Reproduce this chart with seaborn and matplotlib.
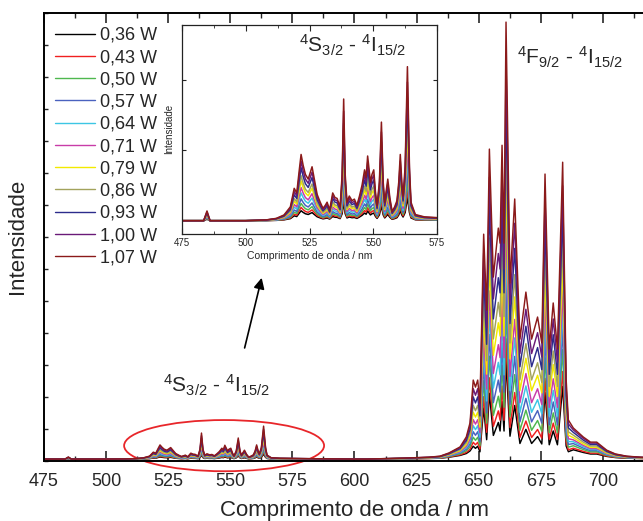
import numpy as np
import pandas as pd
import matplotlib
matplotlib.use('Agg')
import matplotlib.pyplot as plt
import seaborn as sns
from matplotlib.patches import Ellipse
from matplotlib.lines import Line2D
from matplotlib.ticker import MultipleLocator, FixedLocator

# ---------------- data ----------------
powers = ['0,36 W', '0,43 W', '0,50 W', '0,57 W', '0,64 W', '0,71 W',
          '0,79 W', '0,86 W', '0,93 W', '1,00 W', '1,07 W']
colors = ['#000000', '#f02020', '#4fb84f', '#4a62bf', '#3cc6e4', '#c83ca8',
          '#f2ea00', '#a3a35c', '#2c2c8c', '#6a1a78', '#8b1a1a']
# relative intensity of each power for the green (4S3/2) band
green_scale = [0.15, 0.20, 0.26, 0.33, 0.42, 0.50, 0.60, 0.68, 0.80, 0.90, 1.00]
# relative intensity of each power for the red band: floor (valleys) and peaks
red_floor_scale = [0.13, 0.18, 0.24, 0.31, 0.39, 0.47, 0.57, 0.66, 0.77, 0.88, 1.00]
red_peak_scale = [0.30, 0.35, 0.43, 0.50, 0.56, 0.62, 0.69, 0.77, 0.86, 0.94, 1.00]

# green band profile (1,07 W curve, normalised to its 563 nm maximum)
green_nm = [475, 483.5, 484.8, 486, 500, 508, 512, 515, 517.5, 519, 520, 521,
            521.7, 522.5, 523.4, 524.5, 526, 527, 528, 529.2, 530.3, 531.2,
            531.9, 532.9, 534.1, 535.0, 535.8, 537, 537.8, 538.4, 539.0, 539.7,
            540.6, 541.7, 542.6, 543.6, 544.6, 545.6, 546.6, 547.2, 547.8, 548.9,
            549.5, 550.2, 550.9, 551.5, 552.4, 553.2, 553.9, 554.5, 555.7, 556.5,
            557.4, 558.4, 559.3, 560.0, 560.6, 561.2, 561.7, 562.5, 563.4, 564.2,
            564.8, 566.5, 570, 575, 585, 600]
green_rel = [0.0, 0.0, 0.063, 0.0, 0.0, 0.005, 0.015, 0.037, 0.09, 0.21, 0.18, 0.33,
             0.43, 0.36, 0.30, 0.27, 0.35, 0.26, 0.17, 0.12, 0.08, 0.10,
             0.12, 0.07, 0.18, 0.15, 0.145, 0.09, 0.30, 0.79, 0.30, 0.12,
             0.16, 0.13, 0.14, 0.10, 0.16, 0.23, 0.33, 0.28, 0.42, 0.25,
             0.30, 0.33, 0.18, 0.10, 0.25, 0.64, 0.25, 0.12, 0.27, 0.15,
             0.06, 0.09, 0.13, 0.25, 0.43, 0.25, 0.16, 0.35, 1.00, 0.35,
             0.12, 0.04, 0.025, 0.02, 0.01, 0.0]
green_peak = 1.03      # height of the green maximum on the main intensity scale

# red band profile (1,07 W curve, main intensity scale) and its valley floor
red_nm = [605, 620, 630, 634.4, 638, 642.5, 645, 646.5, 647.8, 648.7, 649.6,
          650.5, 652.0, 653.2, 654.3, 655.9, 657.9, 658.6, 659.4, 660.2, 661.0,
          662.6, 664.5, 666.6, 669.0, 671.3, 673.7, 675.4, 676.7, 678.4, 680.0,
          681.7, 683.8, 685.2, 686.1, 688.1, 692.1, 695, 697.5, 701.5, 705,
          709.6, 715, 725]
red_int = [0.0, 0.03, 0.06, 0.09, 0.19, 0.38, 0.69, 1.13, 2.47, 2.25, 2.47,
           1.75, 7.03, 4.66, 9.69, 5.69, 7.22, 6.75, 9.81, 6.75, 13.66,
           5.50, 8.13, 3.75, 5.22, 3.75, 4.44, 3.63, 8.91, 3.44, 4.88,
           3.44, 9.28, 2.50, 1.22, 0.97, 0.69, 0.53, 0.53, 0.28, 0.16,
           0.09, 0.06, 0.03]
red_floor = [0.0, 0.0, 0.0, 0.0, 0.0, 0.0, 0.2, 0.5, 2.0, 2.0, 2.0,
             1.75, 3.0, 4.66, 5.0, 5.69, 6.0, 6.75, 6.75, 6.75, 6.0,
             5.50, 4.5, 3.75, 3.75, 3.75, 3.7, 3.63, 3.5, 3.44, 3.44,
             3.44, 3.0, 2.0, 0.8, 0.0, 0.0, 0.0, 0.0, 0.0, 0.0,
             0.0, 0.0, 0.0]
baseline = 0.06

# ---------------- style ----------------
sns.set_style('ticks')
plt.rcParams['font.family'] = ['Liberation Sans', 'DejaVu Sans']
plt.rcParams['mathtext.fontset'] = 'custom'
plt.rcParams['mathtext.rm'] = 'Liberation Sans'
plt.rcParams['mathtext.it'] = 'Liberation Sans:italic'
plt.rcParams['mathtext.bf'] = 'Liberation Sans:bold'

rows = []
for p, gs, fs, ps in zip(powers, green_scale, red_floor_scale, red_peak_scale):
    for x, g in zip(green_nm, green_rel):
        rows.append((p, x, baseline + gs * g * green_peak, 'g'))
    for x, r, f in zip(red_nm, red_int, red_floor):
        rows.append((p, x, baseline + fs * f + ps * (r - f), 'r'))
df = pd.DataFrame(rows, columns=['Potencia', 'nm', 'I', 'band'])

W, H = 643, 521
fig = plt.figure(figsize=(W / 100, H / 100), dpi=100)
ax = fig.add_axes([44 / W, 60 / H, 621 / W, 448.5 / H])
sns.lineplot(data=df, x='nm', y='I', hue='Potencia', hue_order=powers,
             palette=colors, estimator=None, sort=False, linewidth=1.05,
             legend=False, ax=ax)
ax.set_xlim(475, 725)
ax.set_ylim(0, 14.02)
ax.xaxis.set_major_locator(FixedLocator([475, 500, 525, 550, 575, 600, 625, 650, 675, 700]))
ax.xaxis.set_minor_locator(MultipleLocator(12.5))
ax.yaxis.set_major_locator(MultipleLocator(1))
ax.set_yticklabels([])
ax.tick_params(axis='x', which='major', direction='in', length=7, width=1.2,
               top=True, labelsize=13, pad=9)
ax.tick_params(axis='x', which='minor', direction='in', length=3.5, width=1.0, top=True)
ax.tick_params(axis='y', which='major', direction='in', length=3, width=1.0, left=True)
for s in ax.spines.values():
    s.set_linewidth(1.4)
    s.set_color('black')
ax.set_xlabel('Comprimento de onda / nm', fontsize=16, labelpad=7)
ax.set_ylabel('Intensidade', fontsize=16, labelpad=8)

handles = [Line2D([], [], color=c, lw=1.0) for c in colors]
ax.legend(handles, powers, loc='upper left', bbox_to_anchor=(55 / W, 1 - 27 / H),
          bbox_transform=fig.transFigure, frameon=False, fontsize=13,
          handlelength=2.2, handletextpad=0.3, labelspacing=0.29,
          borderpad=0, borderaxespad=0)

ax.add_patch(Ellipse((547.5, 0.48), 80.5, 1.6, fill=False, edgecolor='#e8262a',
                     lw=1.3, clip_on=False))
ax.annotate('', xy=(562.9, 5.81), xytext=(555.5, 3.45),
            arrowprops=dict(arrowstyle='-|>', color='black', lw=1.2, mutation_scale=16))

lab_g = r'$\mathregular{^4}$S$\mathregular{_{3/2}}$ - $\mathregular{^4}$I$\mathregular{_{15/2}}$'
lab_r = r'$\mathregular{^4}$F$\mathregular{_{9/2}}$ - $\mathregular{^4}$I$\mathregular{_{15/2}}$'
fig.text(216 / W, 1 - 385 / H, lab_g, ha='center', va='center', fontsize=15)
fig.text(570 / W, 1 - 57 / H, lab_r, ha='center', va='center', fontsize=15)

# ---------------- inset ----------------
axin = fig.add_axes([182 / W, 1 - 234 / H, 255 / W, 209.5 / H])
axin.set_facecolor('white')
sns.lineplot(data=df[df['band'] == 'g'], x='nm', y='I', hue='Potencia',
             hue_order=powers, palette=colors, estimator=None, sort=False,
             linewidth=1.1, legend=False, ax=axin)
axin.set_xlim(475, 575)
axin.set_ylim(-0.029, 1.372)
axin.xaxis.set_major_locator(MultipleLocator(25))
axin.xaxis.set_minor_locator(MultipleLocator(12.5))
axin.set_yticks([0.53, 1.0])
axin.set_yticklabels([])
axin.tick_params(axis='x', which='major', direction='in', length=4, width=0.8,
                 top=True, labelsize=7, pad=3)
axin.tick_params(axis='x', which='minor', direction='in', length=2, width=0.6, top=True)
axin.tick_params(axis='y', direction='in', length=3, width=0.8, left=True, right=True)
for s in axin.spines.values():
    s.set_linewidth(0.9)
    s.set_color('#222222')
axin.set_xlabel('Comprimento de onda / nm', fontsize=7.5, labelpad=2)
axin.set_ylabel('Intensidade', fontsize=7, labelpad=2)
fig.text(352 / W, 1 - 45 / H, lab_g, ha='center', va='center', fontsize=15)

fig.savefig('out.png', dpi=100)
